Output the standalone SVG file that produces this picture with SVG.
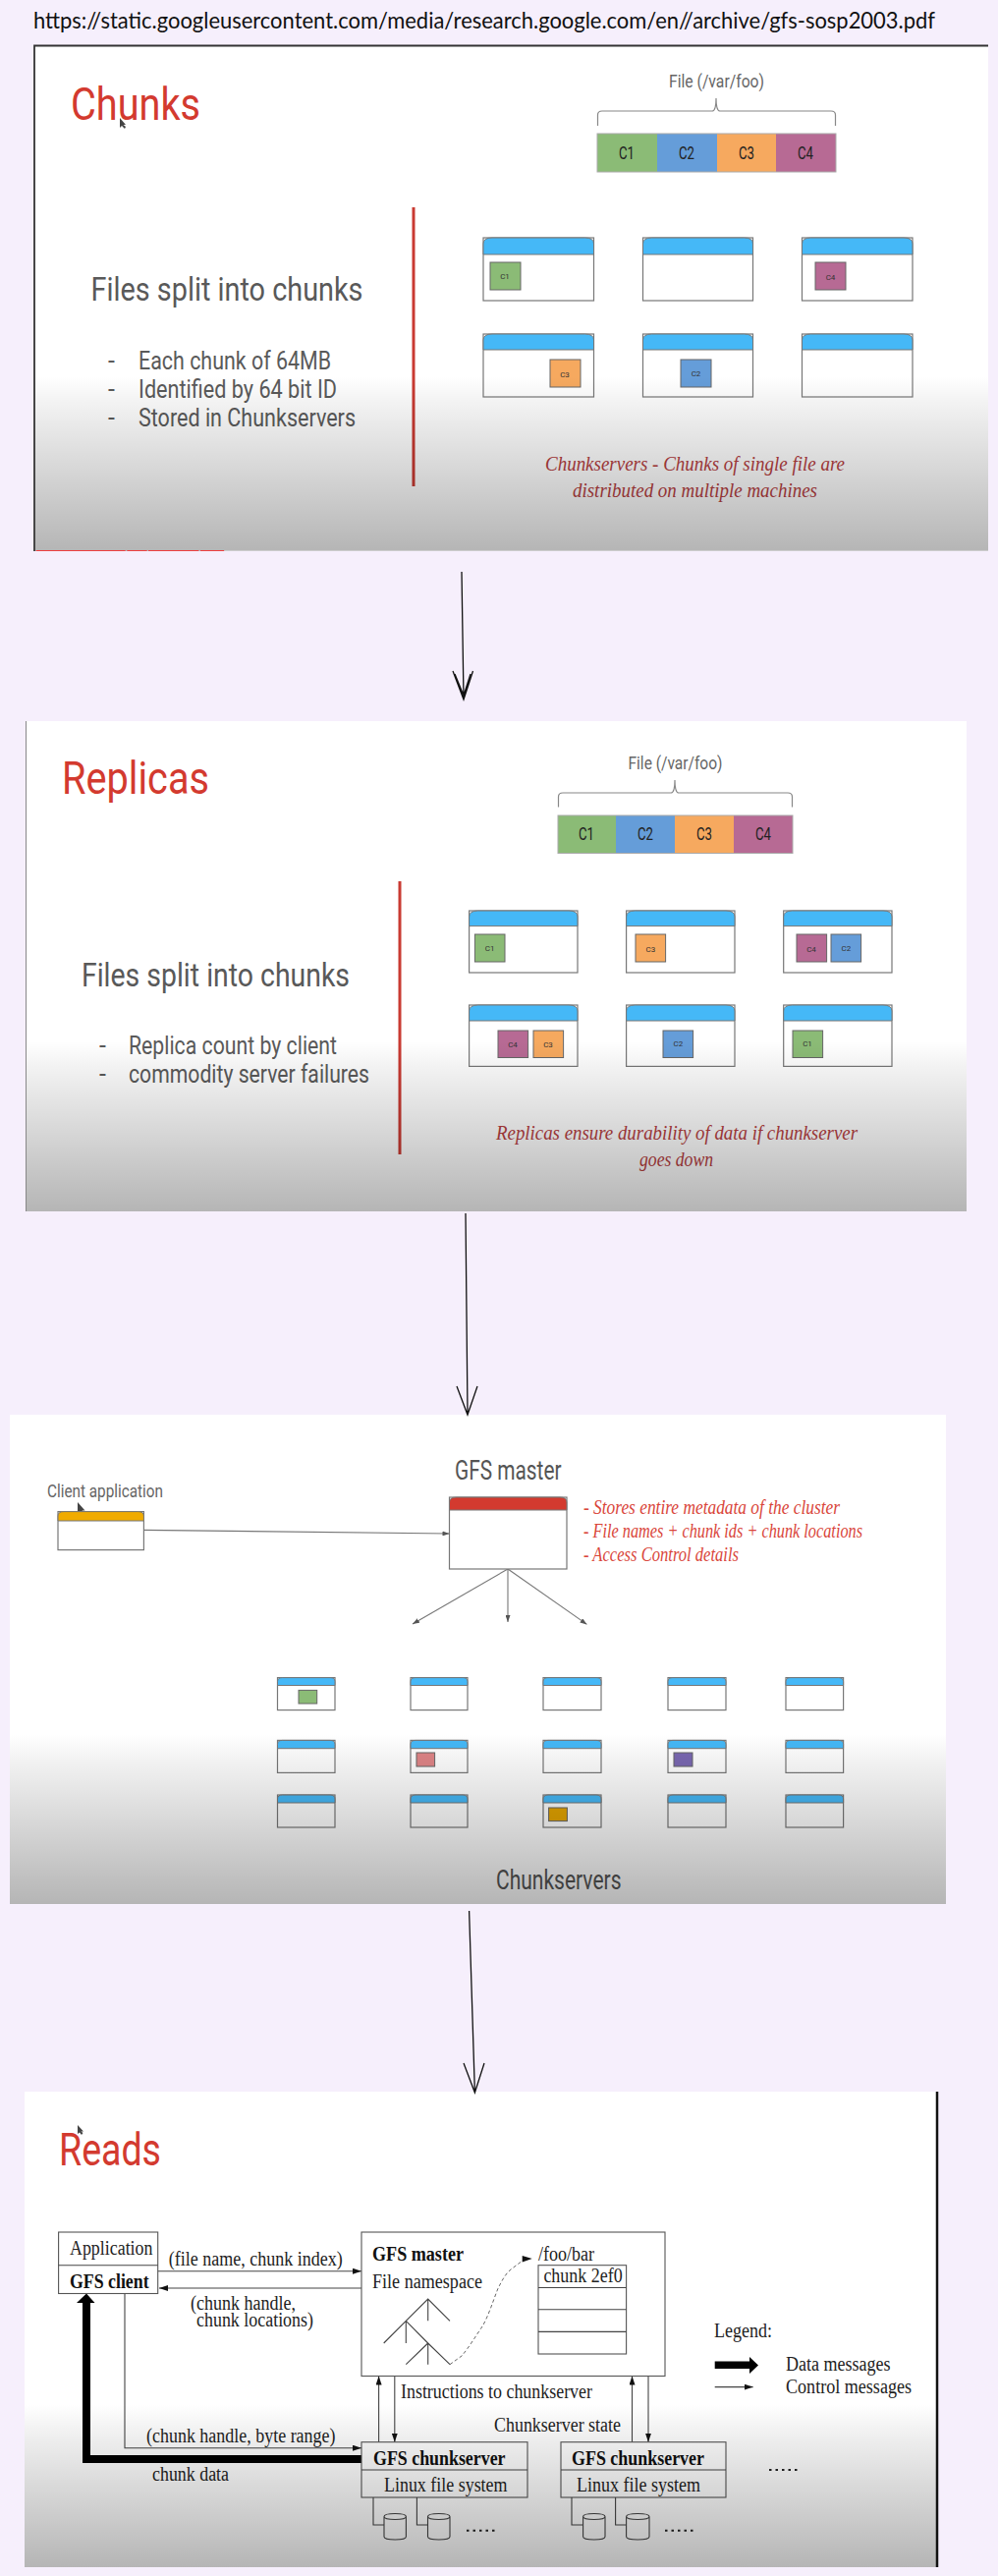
<svg xmlns="http://www.w3.org/2000/svg" width="1016" height="2622" viewBox="0 0 1016 2622">
<style>
text{font-family:Roboto,"Liberation Sans",sans-serif}
.title{font-size:47px;fill:#d33a2f}
.head{font-size:33px;fill:#595959}
.bul{font-size:25px;fill:#5a5a5a}
.file{font-size:18px;fill:#666}
.cl{font-size:18px;fill:#222}
.cs{font-size:8px;fill:#333;text-anchor:middle}
.note{font-family:"Liberation Serif",serif;font-style:italic;font-size:20px;fill:#b5403f}
.note2{font-family:"Liberation Serif",serif;font-style:italic;font-size:20px;fill:#d9453a}
.url{font-family:"Lato",sans-serif;font-size:23px;fill:#111}
.lab{font-size:27px;fill:#555}
.s{font-family:"Liberation Serif",serif;font-size:20px;fill:#222}
.sb{font-family:"Liberation Serif",serif;font-size:20px;fill:#111;font-weight:bold}
.srv{fill:#fff;stroke:#777;stroke-width:1.2}
.hdr{fill:#45b8f7;stroke:#777;stroke-width:1}
.chip{stroke:#666;stroke-width:1}
.brace{fill:none;stroke:#888;stroke-width:1.2}
.bar{stroke:none}
.g{fill:#8bbb76}.b{fill:#659dd9}.o{fill:#f6a95f}.m{fill:#b76a94}
.rule{stroke:#c93a32;stroke-width:3}
.hand{fill:none;stroke:#111;stroke-width:1.3}
.thin{fill:none;stroke:#777;stroke-width:1.1}
.ln{fill:none;stroke:#444;stroke-width:1.1}
.box0{fill:none;stroke:#555;stroke-width:1.1}
.cur{fill:#444}
</style>
<defs>
<linearGradient id="shade" x1="0" y1="0" x2="0" y2="1">
<stop offset="0" stop-color="#000" stop-opacity="0"/>
<stop offset=".15" stop-color="#000" stop-opacity=".05"/>
<stop offset="1" stop-color="#000" stop-opacity=".29"/>
</linearGradient>
<marker id="ah" markerWidth="7" markerHeight="5" refX="7" refY="2.500" orient="auto" markerUnits="userSpaceOnUse"><path d="M0 0L7 2.500L0 5Z" fill="#555"/></marker>
<marker id="as" markerWidth="9" markerHeight="6" refX="9" refY="3" orient="auto" markerUnits="userSpaceOnUse"><path d="M0 0L9 3L0 6Z" fill="#111"/></marker>
</defs>
<rect width="1016" height="2622" fill="#f6effc"/>
<text class="url" x="34" y="29" textLength="918" lengthAdjust="spacingAndGlyphs">https://static.googleusercontent.com/media/research.google.com/en//archive/gfs-sosp2003.pdf</text>

<g id="slides">
<rect x="34" y="46" width="972" height="515" fill="#fff"/>
<path d="M35 561V46.500H1006" fill="none" stroke="#333" stroke-width="1.800"/>
<rect x="26" y="734" width="958" height="499" fill="#fff"/>
<path d="M26.500 734V1233" stroke="#888" stroke-width="1"/>
<rect x="10" y="1440" width="953" height="498" fill="#fff"/>
<rect x="25" y="2129" width="929" height="484" fill="#fff"/>
<path d="M954 2129V2613" stroke="#111" stroke-width="2.500"/>
</g>

<g id="connectors">
<path class="hand" d="M470 582L472 712M461 683L472 712L481.500 683M463 686L472 708L479 686"/>
<path class="hand" d="M474 1235L476 1440M465 1411L476 1440L486 1411"/>
<path class="hand" d="M477.600 1945L483.400 2130M472 2100L483.400 2130L493 2100"/>
<path class="thin" d="M146.400 1557.400L457.500 1561" marker-end="url(#ah)"/>
<path class="thin" d="M517 1597L420 1653" marker-end="url(#ah)"/>
<path class="thin" d="M517 1597V1651" marker-end="url(#ah)"/>
<path class="thin" d="M517 1597L597.500 1653.400" marker-end="url(#ah)"/>
<path class="ln" d="M160.700 2311.700H368" marker-end="url(#as)"/>
<path class="ln" d="M368 2329H162" marker-end="url(#as)"/>
<path class="ln" d="M127 2334.500V2491.700H368" marker-end="url(#as)"/>
<path class="ln" d="M385.600 2485.700V2418.500" marker-end="url(#as)"/>
<path class="ln" d="M401.800 2418.500V2485.700" marker-end="url(#as)"/>
<path class="ln" d="M643.500 2485.700V2418.500" marker-end="url(#as)"/>
<path class="ln" d="M660 2418.500V2485.700" marker-end="url(#as)"/>
<path d="M368 2503H88V2340" fill="none" stroke="#000" stroke-width="8"/>
<path d="M78 2344L88 2334.500L96.500 2344Z" fill="#000"/>
<path d="M458 2406.700L470 2398C477 2390 485 2376.700 491 2368C497 2358 502 2342 506.700 2330C511 2321 515 2314 520 2310L532 2301" fill="none" stroke="#666" stroke-width="1" stroke-dasharray="3.500 2.500"/>
<path d="M541.700 2299L531.700 2296V2302.500Z" fill="#111"/>
</g>

<g id="chunks-slide">
<text class="title" x="72" y="122" textLength="132" lengthAdjust="spacingAndGlyphs">Chunks</text>
<path class="cur" d="M122 120L122 130L124 128L127 131L128 129L125.500 127H128Z"/>
<g id="file1">
<text class="file" x="681" y="89" textLength="97" lengthAdjust="spacingAndGlyphs">File (/var/foo)</text>
<path class="brace" d="M608.500 128V117Q608.500 113 613 113H725Q729 113 729 100Q729 113 733 113H846Q850.500 113 850.500 117V128"/>
<rect class="g bar" x="608" y="136" width="61" height="39"/><rect class="b bar" x="669" y="136" width="61" height="39"/><rect class="o bar" x="730" y="136" width="60" height="39"/><rect class="m bar" x="790" y="136" width="61" height="39"/>
<rect x="608" y="136" width="243" height="39" fill="none" stroke="#aaa" stroke-width="1"/>
<text class="cl" x="630" y="162" textLength="16" lengthAdjust="spacingAndGlyphs">C1</text><text class="cl" x="691" y="162" textLength="16" lengthAdjust="spacingAndGlyphs">C2</text><text class="cl" x="752" y="162" textLength="16" lengthAdjust="spacingAndGlyphs">C3</text><text class="cl" x="812" y="162" textLength="16" lengthAdjust="spacingAndGlyphs">C4</text>
</g>
<path class="rule" d="M421 211V495"/>
<text class="head" x="92.500" y="306" textLength="277" lengthAdjust="spacingAndGlyphs">Files split into chunks</text>
<text class="bul" x="110" y="376">-</text><text class="bul" x="141" y="376" textLength="196" lengthAdjust="spacingAndGlyphs">Each chunk of 64MB</text>
<text class="bul" x="110" y="405">-</text><text class="bul" x="141" y="405" textLength="202" lengthAdjust="spacingAndGlyphs">Identified by 64 bit ID</text>
<text class="bul" x="110" y="434">-</text><text class="bul" x="141" y="434" textLength="221" lengthAdjust="spacingAndGlyphs">Stored in Chunkservers</text>
<g id="s1a"><rect class="srv" x="492" y="242" width="112.500" height="64"/><path class="hdr" d="M492 259V248Q492 242 501 242H595.500Q604.500 242 604.500 248V259Z"/><rect class="g chip" x="499" y="267" width="31" height="28"/><text class="cs" x="514" y="284">C1</text></g>
<g id="s1b"><rect class="srv" x="654.500" y="242" width="112" height="64"/><path class="hdr" d="M654.500 259V248Q654.500 242 663.500 242H757.500Q766.500 242 766.500 248V259Z"/></g>
<g id="s1c"><rect class="srv" x="816.500" y="242" width="112.500" height="64"/><path class="hdr" d="M816.500 259V248Q816.500 242 825.500 242H920Q929 242 929 248V259Z"/><rect class="m chip" x="830" y="267" width="31" height="28"/><text class="cs" x="845.500" y="285">C4</text></g>
<g id="s1d"><rect class="srv" x="492" y="340" width="112.500" height="64"/><path class="hdr" d="M492 356V346Q492 340 501 340H595.500Q604.500 340 604.500 346V356Z"/><rect class="o chip" x="560" y="366" width="31" height="28"/><text class="cs" x="575" y="384">C3</text></g>
<g id="s1e"><rect class="srv" x="654.500" y="340" width="112" height="64"/><path class="hdr" d="M654.500 356V346Q654.500 340 663.500 340H757.500Q766.500 340 766.500 346V356Z"/><rect class="b chip" x="693" y="366" width="31" height="28"/><text class="cs" x="708.500" y="383">C2</text></g>
<g id="s1f"><rect class="srv" x="816.500" y="340" width="112.500" height="64"/><path class="hdr" d="M816.500 356V346Q816.500 340 825.500 340H920Q929 340 929 346V356Z"/></g>
<text class="note" x="555" y="479" textLength="305" lengthAdjust="spacingAndGlyphs">Chunkservers - Chunks of single file are</text>
<text class="note" x="583" y="506" textLength="249" lengthAdjust="spacingAndGlyphs">distributed on multiple machines</text>
</g>

<g id="replicas-slide">
<text class="title" x="63" y="808" textLength="150" lengthAdjust="spacingAndGlyphs">Replicas</text>
<g id="file2">
<text class="file" x="639.500" y="783" textLength="96" lengthAdjust="spacingAndGlyphs">File (/var/foo)</text>
<path class="brace" d="M568.500 821.600V811Q568.500 807 573 807H683Q687 807 687 794Q687 807 691 807H802Q806.500 807 806.500 811V821.600"/>
<rect class="g bar" x="568" y="830" width="59" height="38.500"/><rect class="b bar" x="627" y="830" width="60" height="38.500"/><rect class="o bar" x="687" y="830" width="60" height="38.500"/><rect class="m bar" x="747" y="830" width="60" height="38.500"/>
<rect x="568" y="830" width="239" height="38.500" fill="none" stroke="#aaa" stroke-width="1"/>
<text class="cl" x="589" y="855" textLength="16" lengthAdjust="spacingAndGlyphs">C1</text><text class="cl" x="649" y="855" textLength="16" lengthAdjust="spacingAndGlyphs">C2</text><text class="cl" x="709" y="855" textLength="16" lengthAdjust="spacingAndGlyphs">C3</text><text class="cl" x="769" y="855" textLength="16" lengthAdjust="spacingAndGlyphs">C4</text>
</g>
<path class="rule" d="M407 897V1175"/>
<text class="head" x="83" y="1004" textLength="273" lengthAdjust="spacingAndGlyphs">Files split into chunks</text>
<text class="bul" x="101" y="1072.500">-</text><text class="bul" x="131" y="1072.500" textLength="212" lengthAdjust="spacingAndGlyphs">Replica count by client</text>
<text class="bul" x="101" y="1101.500">-</text><text class="bul" x="131" y="1101.500" textLength="245" lengthAdjust="spacingAndGlyphs">commodity server failures</text>
<g id="s2a"><rect class="srv" x="477.600" y="927" width="110.400" height="63"/><path class="hdr" d="M477.600 942.600V933Q477.600 927 486.600 927H579Q588 927 588 933V942.600Z"/><rect class="g chip" x="483.400" y="951" width="30.600" height="28"/><text class="cs" x="498.700" y="968">C1</text></g>
<g id="s2b"><rect class="srv" x="637.600" y="927" width="110.400" height="63"/><path class="hdr" d="M637.600 942.600V933Q637.600 927 646.600 927H739Q748 927 748 933V942.600Z"/><rect class="o chip" x="647" y="951" width="30.600" height="28"/><text class="cs" x="662.300" y="969">C3</text></g>
<g id="s2c"><rect class="srv" x="797.700" y="927" width="110.300" height="63"/><path class="hdr" d="M797.700 942.600V933Q797.700 927 806.700 927H899Q908 927 908 933V942.600Z"/><rect class="m chip" x="811" y="951" width="30.600" height="28"/><text class="cs" x="826" y="969">C4</text><rect class="b chip" x="846" y="951" width="30.600" height="28"/><text class="cs" x="861.300" y="968">C2</text></g>
<g id="s2d"><rect class="srv" x="477.600" y="1023" width="110.400" height="62.400"/><path class="hdr" d="M477.600 1039V1029Q477.600 1023 486.600 1023H579Q588 1023 588 1029V1039Z"/><rect class="m chip" x="507" y="1049" width="30.600" height="27.500"/><text class="cs" x="522" y="1066">C4</text><rect class="o chip" x="543" y="1049" width="30.600" height="27.500"/><text class="cs" x="558" y="1066">C3</text></g>
<g id="s2e"><rect class="srv" x="637.600" y="1023" width="110.400" height="62.400"/><path class="hdr" d="M637.600 1039V1029Q637.600 1023 646.600 1023H739Q748 1023 748 1029V1039Z"/><rect class="b chip" x="675" y="1049" width="30.600" height="27.500"/><text class="cs" x="690.300" y="1065">C2</text></g>
<g id="s2f"><rect class="srv" x="797.700" y="1023" width="110.300" height="62.400"/><path class="hdr" d="M797.700 1039V1029Q797.700 1023 806.700 1023H899Q908 1023 908 1029V1039Z"/><rect class="g chip" x="807" y="1049" width="30.600" height="27.500"/><text class="cs" x="822" y="1065">C1</text></g>
<text class="note" x="505" y="1160" textLength="368" lengthAdjust="spacingAndGlyphs">Replicas ensure durability of data if chunkserver</text>
<text class="note" x="651" y="1187" textLength="75" lengthAdjust="spacingAndGlyphs">goes down</text>
</g>

<g id="master-slide">
<text class="lab" x="463" y="1505.500" textLength="108.500" lengthAdjust="spacingAndGlyphs">GFS master</text>
<text x="48" y="1524" font-size="18" fill="#666" textLength="118" lengthAdjust="spacingAndGlyphs">Client application</text>
<path class="cur" d="M79 1529L79 1541L81.500 1539L84 1542L86 1540L83.500 1537.500H86.500Z"/>
<g id="client"><rect class="srv" x="59" y="1538.600" width="87.400" height="39"/><path class="hdr" style="fill:#f0ab00" d="M59 1548V1543Q59 1538.600 65 1538.600H140.400Q146.400 1538.600 146.400 1543V1548Z"/></g>
<g id="master"><rect class="srv" x="457.500" y="1524" width="119.500" height="73"/><path class="hdr" style="fill:#d33a2f" d="M457.500 1537V1529Q457.500 1524 464.500 1524H570Q577 1524 577 1529V1537Z"/></g>
<text class="note2" x="594" y="1541" textLength="261" lengthAdjust="spacingAndGlyphs">- Stores entire metadata of the cluster</text>
<text class="note2" x="594" y="1565" textLength="284" lengthAdjust="spacingAndGlyphs">- File names + chunk ids + chunk locations</text>
<text class="note2" x="594" y="1589" textLength="158" lengthAdjust="spacingAndGlyphs">- Access Control details</text>
<g id="cs-r1">
<g><rect class="srv" x="282.500" y="1707.600" width="58.500" height="33"/><path class="hdr" d="M282.500 1715.500V1711.600Q282.500 1707.600 287.500 1707.600H336Q341 1707.600 341 1711.600V1715.500Z"/><rect class="g chip" x="304" y="1720.400" width="18.700" height="13.600"/></g>
<g><rect class="srv" x="418" y="1707.600" width="58" height="33"/><path class="hdr" d="M418 1715.500V1711.600Q418 1707.600 423 1707.600H471Q476 1707.600 476 1711.600V1715.500Z"/></g>
<g><rect class="srv" x="553" y="1707.600" width="59" height="33"/><path class="hdr" d="M553 1715.500V1711.600Q553 1707.600 558 1707.600H607Q612 1707.600 612 1711.600V1715.500Z"/></g>
<g><rect class="srv" x="680" y="1707.600" width="59" height="33"/><path class="hdr" d="M680 1715.500V1711.600Q680 1707.600 685 1707.600H734Q739 1707.600 739 1711.600V1715.500Z"/></g>
<g><rect class="srv" x="800" y="1707.600" width="58.600" height="33"/><path class="hdr" d="M800 1715.500V1711.600Q800 1707.600 805 1707.600H853.600Q858.600 1707.600 858.600 1711.600V1715.500Z"/></g>
</g>
<g id="cs-r2">
<g><rect class="srv" x="282.500" y="1771.400" width="58.500" height="33"/><path class="hdr" d="M282.500 1779.700V1775.400Q282.500 1771.400 287.500 1771.400H336Q341 1771.400 341 1775.400V1779.700Z"/></g>
<g><rect class="srv" x="418" y="1771.400" width="58" height="33"/><path class="hdr" d="M418 1779.700V1775.400Q418 1771.400 423 1771.400H471Q476 1771.400 476 1775.400V1779.700Z"/><rect class="chip" fill="#df8587" x="424" y="1784" width="18.600" height="14"/></g>
<g><rect class="srv" x="553" y="1771.400" width="59" height="33"/><path class="hdr" d="M553 1779.700V1775.400Q553 1771.400 558 1771.400H607Q612 1771.400 612 1775.400V1779.700Z"/></g>
<g><rect class="srv" x="680" y="1771.400" width="59" height="33"/><path class="hdr" d="M680 1779.700V1775.400Q680 1771.400 685 1771.400H734Q739 1771.400 739 1775.400V1779.700Z"/><rect class="chip" fill="#7a68b2" x="686" y="1784" width="19" height="14"/></g>
<g><rect class="srv" x="800" y="1771.400" width="58.600" height="33"/><path class="hdr" d="M800 1779.700V1775.400Q800 1771.400 805 1771.400H853.600Q858.600 1771.400 858.600 1775.400V1779.700Z"/></g>
</g>
<g id="cs-r3">
<g><rect class="srv" x="282.500" y="1827" width="58.500" height="33"/><path class="hdr" d="M282.500 1835V1831Q282.500 1827 287.500 1827H336Q341 1827 341 1831V1835Z"/></g>
<g><rect class="srv" x="418" y="1827" width="58" height="33"/><path class="hdr" d="M418 1835V1831Q418 1827 423 1827H471Q476 1827 476 1831V1835Z"/></g>
<g><rect class="srv" x="553" y="1827" width="59" height="33"/><path class="hdr" d="M553 1835V1831Q553 1827 558 1827H607Q612 1827 612 1831V1835Z"/><rect class="chip" fill="#e5a500" x="558.600" y="1840" width="18.800" height="13.600"/></g>
<g><rect class="srv" x="680" y="1827" width="59" height="33"/><path class="hdr" d="M680 1835V1831Q680 1827 685 1827H734Q739 1827 739 1831V1835Z"/></g>
<g><rect class="srv" x="800" y="1827" width="58.600" height="33"/><path class="hdr" d="M800 1835V1831Q800 1827 805 1827H853.600Q858.600 1827 858.600 1831V1835Z"/></g>
</g>
<text class="lab" x="505" y="1923.400" textLength="127.500" lengthAdjust="spacingAndGlyphs">Chunkservers</text>
</g>

<g id="reads-slide">
<text class="title" x="60" y="2204" textLength="104" lengthAdjust="spacingAndGlyphs">Reads</text>
<path class="cur" d="M79 2163L79 2172L81 2170.500L83 2173L84.500 2171L82.500 2169.500H85Z"/>
<g id="app"><rect class="box0" x="59.600" y="2272" width="101.100" height="62.500" style="fill:#fff"/><path class="ln" d="M59.600 2305.700H160.700"/>
<text class="s" x="71" y="2295" textLength="84.500" lengthAdjust="spacingAndGlyphs">Application</text>
<text class="sb" x="71" y="2329" textLength="80.600" lengthAdjust="spacingAndGlyphs">GFS client</text></g>
<text class="s" x="171.700" y="2306" textLength="177" lengthAdjust="spacingAndGlyphs">(file name, chunk index)</text>
<text class="s" x="194" y="2351" textLength="107" lengthAdjust="spacingAndGlyphs">(chunk handle,</text>
<text class="s" x="200" y="2368" textLength="119" lengthAdjust="spacingAndGlyphs">chunk locations)</text>
<g id="gfs-master"><rect class="box0" x="368" y="2272" width="309" height="146.500"/>
<text class="sb" x="379" y="2300.600" textLength="93" lengthAdjust="spacingAndGlyphs">GFS master</text>
<text class="s" x="379" y="2329" textLength="112" lengthAdjust="spacingAndGlyphs">File namespace</text>
<text class="s" x="548" y="2300.600" textLength="57" lengthAdjust="spacingAndGlyphs">/foo/bar</text>
<rect class="box0" x="548" y="2305.700" width="89.600" height="90.300"/>
<path class="ln" d="M548 2328.500H637.600M548 2350.700H637.600M548 2373.400H637.600"/>
<text class="s" x="553.400" y="2323" textLength="80.300" lengthAdjust="spacingAndGlyphs">chunk 2ef0</text>
<path class="ln" d="M413.300 2362.300L435.700 2340L458 2362.300M435.700 2340V2362.300M413.300 2362.300L390.700 2385M413.300 2362.300V2385M413.300 2362.300L435.700 2385L458 2406.700M435.700 2385L413.300 2406.700M435.700 2385V2406.700"/>
</g>
<text class="s" x="408" y="2441" textLength="195" lengthAdjust="spacingAndGlyphs">Instructions to chunkserver</text>
<text class="s" x="503" y="2474.600" textLength="129" lengthAdjust="spacingAndGlyphs">Chunkserver state</text>
<text class="s" x="149" y="2485.700" textLength="192.500" lengthAdjust="spacingAndGlyphs">(chunk handle, byte range)</text>
<text class="s" x="155" y="2525" textLength="78" lengthAdjust="spacingAndGlyphs">chunk data</text>
<g id="cs1"><rect class="box0" x="368" y="2485.700" width="169" height="56.300"/><path class="ln" d="M368 2514H537M380 2542V2570H391M424.400 2542V2570H435.500"/>
<text class="sb" x="380" y="2509" textLength="134.500" lengthAdjust="spacingAndGlyphs">GFS chunkserver</text>
<text class="s" x="391" y="2536" textLength="125.500" lengthAdjust="spacingAndGlyphs">Linux file system</text>
<path class="ln" d="M391 2561.500C391 2557.500 413.400 2557.500 413.400 2561.500V2582C413.400 2586 391 2586 391 2582ZM391 2561.500C391 2565.500 413.400 2565.500 413.400 2561.500"/>
<path class="ln" d="M435.500 2561.500C435.500 2557.500 458 2557.500 458 2561.500V2582C458 2586 435.500 2586 435.500 2582ZM435.500 2561.500C435.500 2565.500 458 2565.500 458 2561.500"/>
<path d="M475 2575.700H503.500" stroke="#222" stroke-width="2" stroke-dasharray="2.500 4"/></g>
<g id="cs2"><rect class="box0" x="571" y="2485.700" width="168" height="56.300"/><path class="ln" d="M571 2514H739M582 2542V2570H593.600M626.600 2542V2570H637.600"/>
<text class="sb" x="582" y="2509" textLength="135" lengthAdjust="spacingAndGlyphs">GFS chunkserver</text>
<text class="s" x="587" y="2536" textLength="126" lengthAdjust="spacingAndGlyphs">Linux file system</text>
<path class="ln" d="M593.600 2561.500C593.600 2557.500 616 2557.500 616 2561.500V2582C616 2586 593.600 2586 593.600 2582ZM593.600 2561.500C593.600 2565.500 616 2565.500 616 2561.500"/>
<path class="ln" d="M637.600 2561.500C637.600 2557.500 661 2557.500 661 2561.500V2582C661 2586 637.600 2586 637.600 2582ZM637.600 2561.500C637.600 2565.500 661 2565.500 661 2561.500"/>
<path d="M677 2575.700H706" stroke="#222" stroke-width="2" stroke-dasharray="2.500 4"/></g>
<path d="M783 2514H812.600" stroke="#222" stroke-width="2" stroke-dasharray="2.500 4"/>
<g id="legend">
<text class="s" x="727" y="2378.600" textLength="59" lengthAdjust="spacingAndGlyphs">Legend:</text>
<path d="M727.700 2403.500H763V2399L772 2407.500L763 2416V2411H727.700Z" fill="#000"/>
<text class="s" x="800" y="2412.500" textLength="106.500" lengthAdjust="spacingAndGlyphs">Data messages</text>
<path class="ln" d="M727.700 2429.600H766.600" marker-end="url(#as)"/>
<text class="s" x="800" y="2435.600" textLength="128" lengthAdjust="spacingAndGlyphs">Control messages</text>
</g>
</g>

<g id="shades">
<rect x="36" y="383" width="970" height="178" fill="url(#shade)"/>
<rect x="27" y="1060" width="957" height="173" fill="url(#shade)"/>
<rect x="10" y="1765" width="953" height="173" fill="url(#shade)"/>
<rect x="25" y="2447" width="928" height="166" fill="url(#shade)"/>
<path d="M36.700 560.500H127.700M129.300 560.500H149.700M151 560.500H202.300M204 560.500H228.300" stroke="#ee3f3f" stroke-width="1.200"/>
<path d="M228.300 560.500H1006" stroke="#ccc" stroke-width="1.200"/>
</g>
</svg>
